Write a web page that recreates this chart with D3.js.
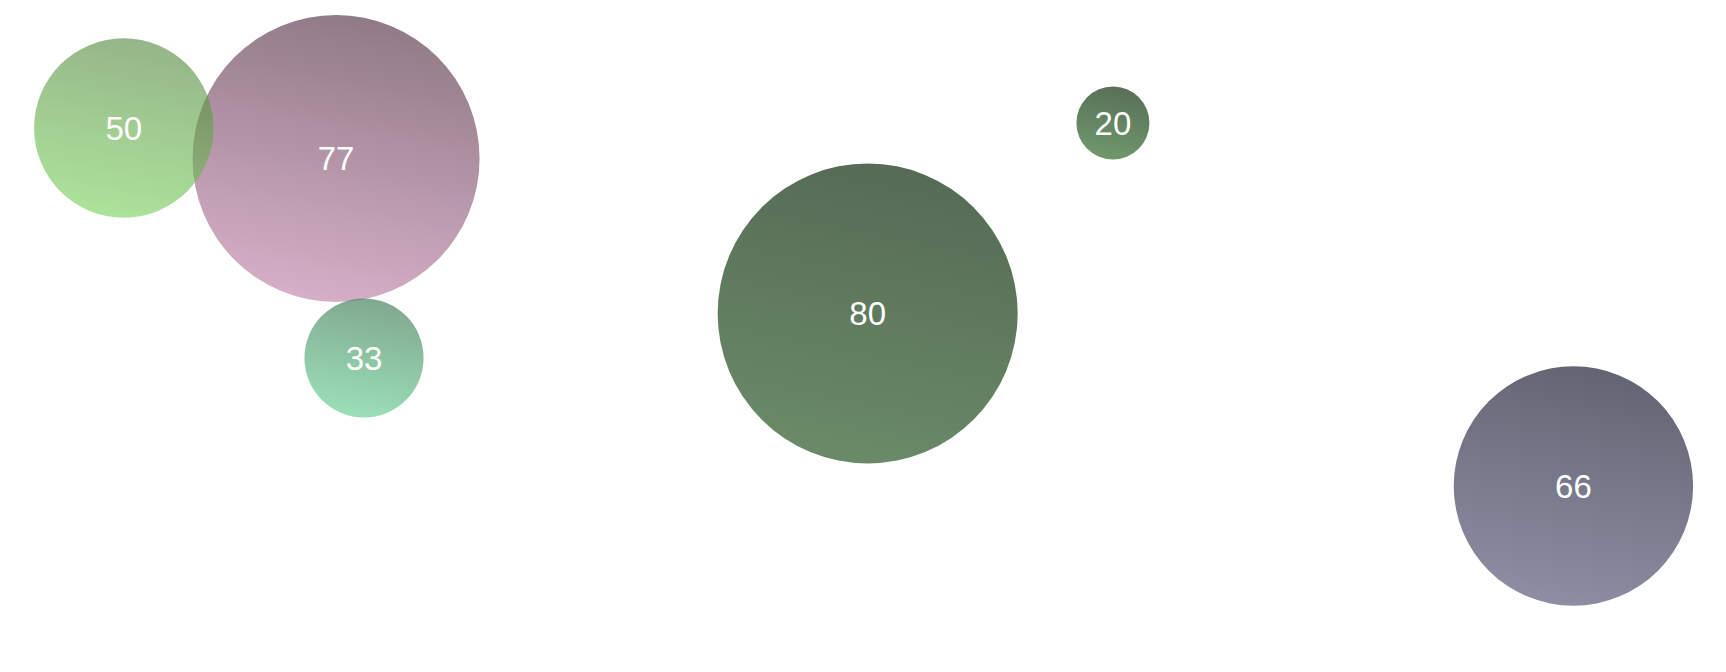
<!DOCTYPE html>
<html>
<head>
<meta charset="utf-8">
<script src="https://cdn.jsdelivr.net/npm/d3@7"></script>
<style>
  html, body { margin: 0; padding: 0; background: #ffffff; }
  svg { display: block; }
</style>
</head>
<body>
<div id="chart"></div>
<script>
// ---- data ----
const values = [50, 77, 33, 80, 20, 66];
const xPos   = [7.17, 19.47, 21.09, 50.27, 64.48, 91.16];   // % of width
const yPos   = [19.05, 23.59, 53.27, 46.65, 18.30, 72.32];  // % of height

// ---- palette (top colour, bottom colour, opacity) ----
const palette = [
  { top: "#4e843a", bottom: "#76d057", opacity: 0.6 },
  { top: "#462135", bottom: "#bb7aa3", opacity: 0.6 },
  { top: "#2b6e46", bottom: "#58cb89", opacity: 0.6 },
  { top: "#566a55", bottom: "#6a8b68", opacity: 1 },
  { top: "#587058", bottom: "#70986c", opacity: 1 },
  { top: "#636472", bottom: "#8e8ea4", opacity: 1 }
];

const width = 1726, height = 672;

const svg = d3.select("#chart").append("svg")
  .attr("width", width).attr("height", height);

const x = d3.scaleLinear().domain([0, 100]).range([0, width]);
const y = d3.scaleLinear().domain([0, 100]).range([0, height]);
const r = d3.scaleLinear().domain([20, 50, 66, 80]).range([36.5, 89.7, 119.7, 150]);

const nodes = values.map((v, i) => ({ v, i, x: xPos[i], y: yPos[i] }));

const defs = svg.append("defs");
nodes.forEach(d => {
  const g = defs.append("linearGradient")
    .attr("id", "grad" + d.i)
    .attr("x1", 0.6).attr("y1", 0).attr("x2", 0.4).attr("y2", 1);
  g.append("stop").attr("offset", "0%").attr("stop-color", palette[d.i].top);
  g.append("stop").attr("offset", "100%").attr("stop-color", palette[d.i].bottom);
});

// larger bubbles first, smaller ones on top
const ordered = nodes.slice().sort((a, b) => b.v - a.v);

const g = svg.selectAll("g.bubble").data(ordered).join("g")
  .attr("class", "bubble")
  .attr("transform", d => `translate(${x(d.x)},${y(d.y)})`);

g.append("circle")
  .attr("r", d => r(d.v))
  .attr("fill", d => `url(#grad${d.i})`)
  .attr("fill-opacity", d => palette[d.i].opacity);

g.append("text")
  .attr("text-anchor", "middle")
  .attr("dy", "0.36em")
  .attr("fill", "#ffffff")
  .style("font-family", "'Liberation Sans', Arial, Helvetica, sans-serif")
  .style("font-size", "33px")
  .text(d => d.v);
</script>
</body>
</html>
